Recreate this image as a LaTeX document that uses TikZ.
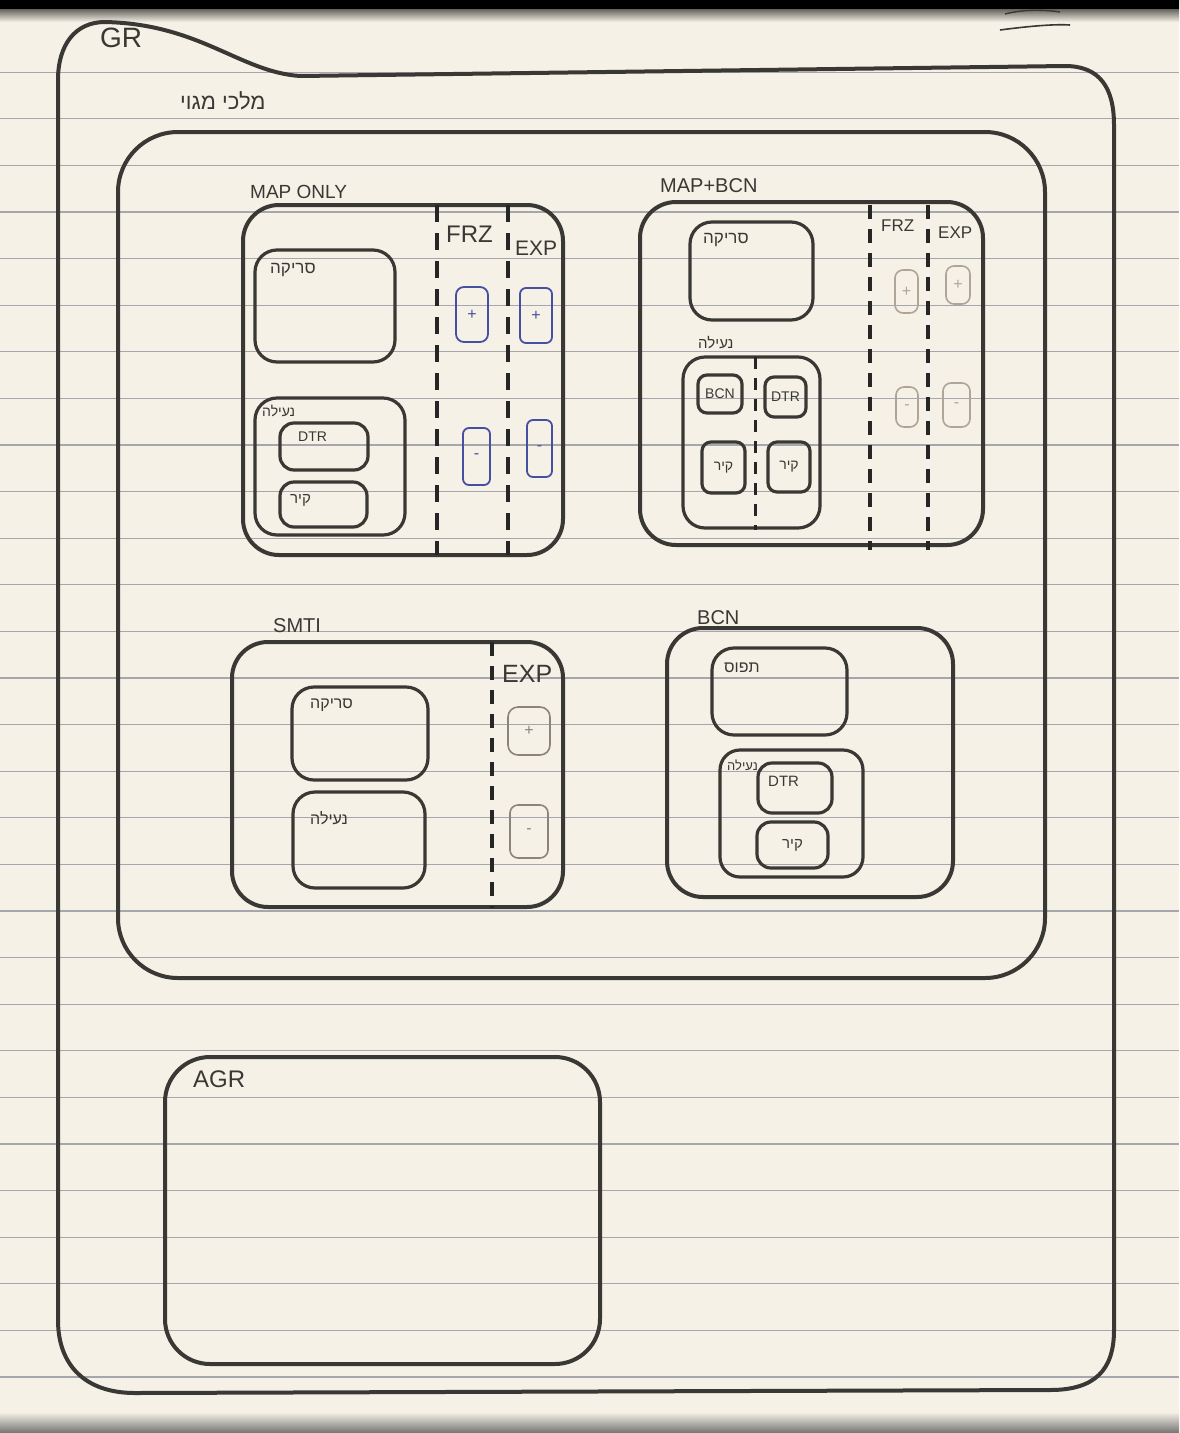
\documentclass[tikz,border=0pt]{standalone}
\usepackage{fontspec}
\setmainfont{Liberation Sans}
\newfontfamily\hebfont[Script=Hebrew]{Liberation Sans}
\TeXXeTstate=1
\newcommand\heb[1]{{\hebfont\beginR #1\endR}}
\definecolor{paper}{RGB}{245,241,230}
\definecolor{rule}{RGB}{165,167,173}
\definecolor{pencil}{RGB}{58,56,52}
\definecolor{lightpencil}{RGB}{175,165,150}
\definecolor{bluepen}{RGB}{70,80,160}
\newcommand\rbox[7][pen]{%
  \node[#1, rounded corners=#7, minimum width={#5-#3}, minimum height={#6-#4},
        inner sep=0pt, outer sep=0pt] (#2) at ({(#3+#5)/2},{(#4+#6)/2}) {};}
\tikzset{
  pen/.style={draw=pencil, line width=4pt, line join=round},
  midpen/.style={draw=pencil, line width=3.2pt, line join=round},
  bluebox/.style={draw=bluepen, line width=1.8pt, line join=round},
  faintbox/.style={draw=lightpencil, line width=1.6pt, line join=round},
  dashln/.style={draw=black!85, line width=4.5pt, dash pattern=on 17pt off 11pt},
  dashsm/.style={draw=black!85, line width=3.5pt, dash pattern=on 14pt off 10pt},
  lbl/.style={text=pencil, inner sep=0pt, anchor=west},
  sym/.style={inner sep=0pt, font=\fontsize{16}{18}\selectfont}
}
\begin{document}
\begin{tikzpicture}[x=1pt, y=-1pt]
\useasboundingbox (0,0) rectangle (1179,1433);
\fill[paper] (0,0) rectangle (1179,1433);
% ruled paper
\foreach \k in {1,...,30} {
  \draw[rule, line width=1.2pt] (0,{25.6+46.6*\k}) -- (1179,{25.6+46.6*\k});
}
% page edges
\shade[top color=black, bottom color=paper] (0,0) rectangle (1179,22);
\fill[black] (0,0) rectangle (1179,9);
\shade[top color=paper, bottom color=black!55] (0,1412) rectangle (1179,1433);
% top-right scribble
\draw[pencil, line width=1.6pt] (1000,30) .. controls (1030,26) and (1055,24) .. (1070,25);
\draw[pencil, line width=1.4pt] (1005,14) .. controls (1020,10) and (1040,9) .. (1060,12);

% ---------- GR outer ----------
\draw[pen] (105,22) .. controls (200,24) and (240,72) .. (300,76) -- (1065,66)
  .. controls (1100,66) and (1114,88) .. (1114,125) -- (1114,1330)
  .. controls (1114,1370) and (1095,1390) .. (1050,1390) -- (135,1393)
  .. controls (85,1393) and (58,1365) .. (58,1320) -- (58,80)
  .. controls (58,45) and (75,22) .. (105,22);
\node[lbl, font=\fontsize{28}{30}\selectfont] (grlbl) at (100,38) {GR};

% ---------- big group ----------
\node[lbl, font=\fontsize{22}{24}\selectfont] (grouplbl) at (180,101) {\heb{מלכי מגוי}};
\rbox{group}{118}{132}{1045}{978}{60}

% ---------- MAP ONLY ----------
\node[lbl, font=\fontsize{19}{21}\selectfont] (molbl) at (250,192) {MAP ONLY};
\rbox{maponly}{243}{205}{563}{555}{36}
\coordinate (mo1a) at (437,205); \coordinate (mo1b) at (437,555);
\coordinate (mo2a) at (508,205); \coordinate (mo2b) at (508,555);
\draw[dashln] (mo1a) -- (mo1b);
\draw[dashln] (mo2a) -- (mo2b);
\node[lbl, font=\fontsize{24}{26}\selectfont] (mofrz) at (446,234) {FRZ};
\node[lbl, font=\fontsize{21}{23}\selectfont] (moexp) at (515,248) {EXP};
\rbox[bluebox]{mofp}{456}{287}{488}{342}{8}
\rbox[bluebox]{moep}{520}{288}{552}{343}{6}
\rbox[bluebox]{mofm}{463}{428}{490}{485}{6}
\rbox[bluebox]{moem}{527}{420}{552}{477}{6}
\node[sym, text=bluepen] at (mofp) {+};
\node[sym, text=bluepen] at (moep) {+};
\node[sym, text=bluepen] at (mofm) {-};
\node[sym, text=bluepen] at (moem) {-};
\rbox[midpen]{moscan}{255}{250}{395}{362}{22}
\node[lbl, font=\fontsize{17}{19}\selectfont] (moscanl) at (270,270) {\heb{סריקה}};
\rbox[midpen]{molock}{255}{398}{405}{535}{22}
\node[lbl, font=\fontsize{14}{16}\selectfont] (molockl) at (262,411) {\heb{נעילה}};
\rbox[midpen]{modtr}{280}{423}{368}{470}{14}
\node[lbl, font=\fontsize{14}{16}\selectfont] (modtrl) at (298,437) {DTR};
\rbox[midpen]{mowall}{280}{482}{367}{527}{14}
\node[lbl, font=\fontsize{15}{17}\selectfont] (mowalll) at (290,500) {\heb{קיר}};

% ---------- MAP+BCN ----------
\node[lbl, font=\fontsize{20}{22}\selectfont] (mblbl) at (660,186) {MAP+BCN};
\rbox{mapbcn}{640}{202}{983}{545}{36}
\coordinate (mb1a) at (870,205); \coordinate (mb1b) at (870,550);
\coordinate (mb2a) at (928,205); \coordinate (mb2b) at (928,550);
\draw[dashsm] (mb1a) -- (mb1b);
\draw[dashsm] (mb2a) -- (mb2b);
\node[lbl, font=\fontsize{17}{19}\selectfont] (mbfrz) at (881,226) {FRZ};
\node[lbl, font=\fontsize{17}{19}\selectfont] (mbexp) at (938,233) {EXP};
\rbox[faintbox]{mbfp}{895}{270}{918}{313}{8}
\rbox[faintbox]{mbep}{946}{266}{970}{304}{8}
\rbox[faintbox]{mbfm}{896}{387}{918}{427}{8}
\rbox[faintbox]{mbem}{943}{383}{970}{427}{8}
\node[sym, text=lightpencil] at (mbfp) {+};
\node[sym, text=lightpencil] at (mbep) {+};
\node[sym, text=lightpencil] at (mbfm) {-};
\node[sym, text=lightpencil] at (mbem) {-};
\rbox[midpen]{mbscan}{690}{222}{813}{320}{22}
\node[lbl, font=\fontsize{17}{19}\selectfont] (mbscanl) at (703,240) {\heb{סריקה}};
\node[lbl, font=\fontsize{15}{17}\selectfont] (mblockl) at (698,343) {\heb{נעילה}};
\rbox[midpen]{mblock}{683}{357}{820}{528}{22}
\coordinate (mb3a) at (755,357); \coordinate (mb3b) at (755,530);
\draw[dashsm, line width=3pt, dash pattern=on 12pt off 9pt] (mb3a) -- (mb3b);
\rbox[midpen]{mbbcn}{698}{375}{742}{413}{9}
\node[font=\fontsize{14}{16}\selectfont, text=pencil, inner sep=0pt] at (mbbcn) {BCN};
\rbox[midpen]{mbdtr}{765}{377}{806}{417}{9}
\node[font=\fontsize{14}{16}\selectfont, text=pencil, inner sep=0pt] at (mbdtr) {DTR};
\rbox[midpen]{mbwl}{702}{442}{745}{493}{9}
\node[font=\fontsize{14}{16}\selectfont, text=pencil, inner sep=0pt] at (mbwl) {\heb{קיר}};
\rbox[midpen]{mbwr}{768}{442}{810}{492}{9}
\node[font=\fontsize{14}{16}\selectfont, text=pencil, inner sep=0pt] at (mbwr) {\heb{קיר}};

% ---------- SMTI ----------
\node[lbl, font=\fontsize{20}{22}\selectfont] (smlbl) at (273,626) {SMTI};
\rbox{smti}{232}{642}{563}{907}{36}
\coordinate (sm1a) at (492,642); \coordinate (sm1b) at (492,908);
\draw[dashsm] (sm1a) -- (sm1b);
\node[lbl, font=\fontsize{25}{27}\selectfont] (smexp) at (502,674) {EXP};
\rbox[faintbox, draw=lightpencil!80!black]{smp}{508}{707}{550}{755}{10}
\rbox[faintbox, draw=lightpencil!80!black]{smm}{510}{805}{548}{858}{8}
\node[sym, text=lightpencil!80!black] at (smp) {+};
\node[sym, text=lightpencil!80!black] at (smm) {-};
\rbox[midpen]{smscan}{292}{687}{428}{780}{22}
\node[lbl, font=\fontsize{16}{18}\selectfont] (smscanl) at (310,705) {\heb{סריקה}};
\rbox[midpen]{smlock}{293}{792}{425}{888}{22}
\node[lbl, font=\fontsize{16}{18}\selectfont] (smlockl) at (310,818) {\heb{נעילה}};

% ---------- BCN ----------
\node[lbl, font=\fontsize{20}{22}\selectfont] (bclbl) at (697,618) {BCN};
\rbox{bcn}{667}{628}{953}{897}{36}
\rbox[midpen]{bccap}{712}{648}{847}{735}{22}
\node[lbl, font=\fontsize{16}{18}\selectfont] (bccapl) at (724,668) {\heb{תפוס}};
\rbox[midpen]{bclock}{720}{750}{863}{877}{20}
\node[lbl, font=\fontsize{13}{15}\selectfont] (bclockl) at (727,765) {\heb{נעילה}};
\rbox[midpen]{bcdtr}{758}{763}{832}{813}{14}
\node[lbl, font=\fontsize{15}{17}\selectfont] (bcdtrl) at (768,781) {DTR};
\rbox[midpen]{bcwall}{757}{822}{828}{868}{14}
\node[font=\fontsize{15}{17}\selectfont, text=pencil, inner sep=0pt] (bcwalll) at (bcwall) {\heb{קיר}};

% ---------- AGR ----------
\rbox{agr}{165}{1057}{600}{1364}{45}
\node[lbl, font=\fontsize{24}{26}\selectfont] (agrlbl) at (193,1079) {AGR};
\end{tikzpicture}
\end{document}
